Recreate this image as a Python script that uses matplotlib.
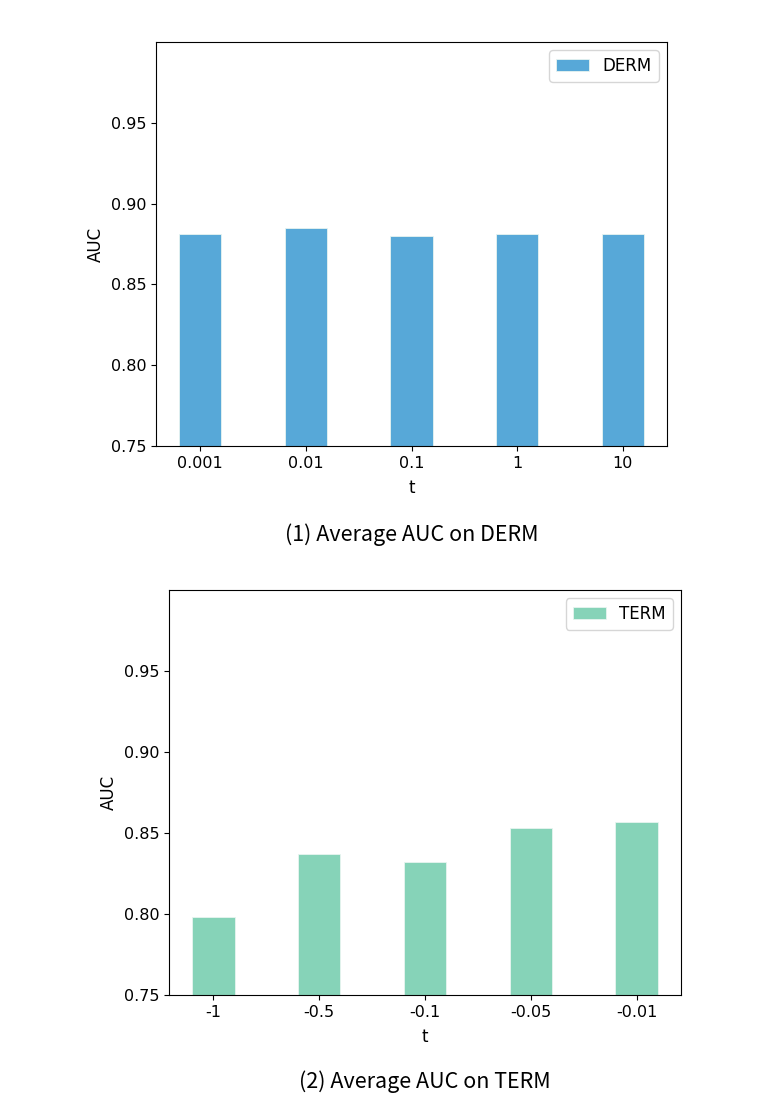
import matplotlib
matplotlib.use("Agg")
import matplotlib.pyplot as plt

plt.rcParams['font.family'] = ['DejaVu Sans']

derm_t = ["0.001", "0.01", "0.1", "1", "10"]
derm_auc = [0.881, 0.885, 0.880, 0.881, 0.881]
term_t = ["-1", "-0.5", "-0.1", "-0.05", "-0.01"]
term_auc = [0.798, 0.837, 0.832, 0.853, 0.857]
yticks = [0.75, 0.80, 0.85, 0.90, 0.95]

W, H = 782, 1110
fig = plt.figure(figsize=(W / 100, H / 100), dpi=100)

def px_axes(l, t, r, b):
    return fig.add_axes([l / W, 1 - b / H, (r - l) / W, (b - t) / H])

def draw(ax, cats, vals, color, label, caption, cap_y):
    x = list(range(len(cats)))
    ax.bar(x, vals, width=0.4, color=color, edgecolor="#e8f4f0", linewidth=0.6, label=label)
    ax.set_ylim(0.75, 1.0)
    ax.set_yticks(yticks)
    ax.set_yticklabels([f"{v:.2f}" for v in yticks], fontsize=11.5)
    ax.set_xticks(x)
    ax.set_xticklabels(cats, fontsize=11.5)
    ax.set_xlabel("t", fontsize=12, labelpad=6)
    ax.set_ylabel("AUC", fontsize=12)
    ax.legend(loc="upper right", fontsize=12, handlelength=2.0)
    fig.text(ax.get_position().x0 + ax.get_position().width / 2, 1 - cap_y / H, caption,
             ha="center", va="center", fontsize=15.5,
             family=["Noto Sans CJK SC", "DejaVu Sans"])

ax1 = px_axes(156, 42, 667, 446)
draw(ax1, derm_t, derm_auc, "#57a8d8", "DERM", "(1) Average AUC on DERM", 535)
ax2 = px_axes(169, 590, 681, 995)
draw(ax2, term_t, term_auc, "#86d3b8", "TERM", "(2) Average AUC on TERM", 1082)

fig.savefig("out.png", dpi=100)
